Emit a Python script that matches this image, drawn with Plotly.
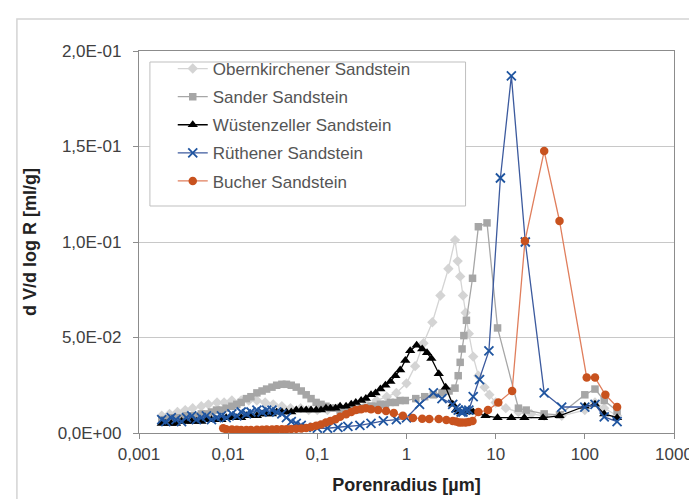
import plotly.graph_objects as go

# ---------------- data ----------------
ober_x = [0.0018, 0.0022, 0.0027, 0.0033, 0.004, 0.005, 0.006, 0.0075, 0.009, 0.011, 0.014, 0.017, 0.021,
          0.026, 0.032, 0.04, 0.05, 0.065, 0.08, 0.1, 0.13, 0.17, 0.22, 0.28, 0.36, 0.46, 0.6, 0.77, 1.0,
          1.25, 1.55, 1.95, 2.4, 2.95, 3.5, 3.75, 4.0, 4.3, 4.6, 5.0, 5.6, 6.4, 7.5, 8.5, 10, 13, 18, 25,
          35, 55, 100, 130, 165, 230]
ober_y = [0.009, 0.010, 0.011, 0.012, 0.013, 0.014, 0.015, 0.016, 0.016, 0.017, 0.017, 0.017, 0.017,
          0.016, 0.015, 0.014, 0.013, 0.013, 0.012, 0.012, 0.012, 0.013, 0.013, 0.014, 0.015, 0.017, 0.019,
          0.021, 0.026, 0.035, 0.047, 0.058, 0.072, 0.086, 0.101, 0.090, 0.082, 0.072, 0.063, 0.052, 0.040,
          0.030, 0.024, 0.020, 0.016, 0.013, 0.011, 0.010, 0.009, 0.009, 0.012, 0.016, 0.013, 0.009]

sander_x = [0.0018, 0.002, 0.0023, 0.0026, 0.003, 0.0034, 0.0039, 0.0044, 0.005, 0.0057, 0.0065, 0.0074,
            0.0084, 0.0095, 0.011, 0.0125, 0.014, 0.016, 0.018, 0.021, 0.024, 0.027, 0.031, 0.035, 0.04,
            0.045, 0.051, 0.058, 0.066, 0.075, 0.085, 0.097, 0.11, 0.125, 0.14, 0.16, 0.18, 0.21, 0.24,
            0.27, 0.31, 0.35, 0.4, 0.45, 0.51, 0.58, 0.66, 0.75, 0.85, 0.97, 1.27, 1.6, 2.0, 2.5, 3.0, 3.5,
            3.8, 4.0, 4.2, 4.4, 4.7, 5.5, 6.4, 8.0, 10.5, 18, 22, 35, 52, 100, 130, 165, 230]
sander_y = [0.007, 0.007, 0.008, 0.008, 0.008, 0.009, 0.009, 0.009, 0.010, 0.010, 0.011, 0.012,
            0.012, 0.013, 0.014, 0.015, 0.016, 0.018, 0.019, 0.021, 0.022, 0.023, 0.024, 0.025, 0.0255,
            0.0255, 0.025, 0.024, 0.022, 0.020, 0.018, 0.016, 0.015, 0.014, 0.013, 0.013, 0.012, 0.012,
            0.012, 0.012, 0.013, 0.013, 0.014, 0.014, 0.015, 0.015, 0.016, 0.016, 0.017, 0.017, 0.018,
            0.019, 0.020, 0.021, 0.022, 0.0235, 0.030, 0.037, 0.044, 0.051, 0.059, 0.081, 0.108, 0.110,
            0.055, 0.013, 0.012, 0.010, 0.0095, 0.020, 0.023, 0.017, 0.0115]

wuest_x = [0.0018, 0.002, 0.0023, 0.0026, 0.003, 0.0034, 0.0039, 0.0044, 0.005, 0.0057, 0.0065, 0.0074,
           0.0084, 0.0095, 0.011, 0.0125, 0.014, 0.016, 0.018, 0.021, 0.024, 0.027, 0.031, 0.035, 0.04,
           0.045, 0.051, 0.058, 0.066, 0.075, 0.085, 0.097, 0.11, 0.125, 0.14, 0.16, 0.18, 0.21, 0.24,
           0.27, 0.31, 0.35, 0.4, 0.45, 0.51, 0.58, 0.66, 0.75, 0.85, 0.97, 1.1, 1.3, 1.5, 1.7, 1.9, 2.3,
           2.75, 3.3, 3.6, 4.0, 4.5, 5.0, 5.6, 7.7, 10.5, 15, 21, 34, 52, 100, 130, 165, 230]
wuest_y = [0.005, 0.005, 0.005, 0.005, 0.006, 0.006, 0.006, 0.006, 0.006, 0.007, 0.007, 0.007,
           0.007, 0.008, 0.008, 0.008, 0.008, 0.009, 0.009, 0.009, 0.010, 0.010, 0.010, 0.011, 0.011,
           0.011, 0.011, 0.012, 0.012, 0.012, 0.012, 0.012, 0.012, 0.013, 0.013, 0.013, 0.014, 0.014,
           0.015, 0.016, 0.017, 0.018, 0.020, 0.021, 0.023, 0.025, 0.027, 0.030, 0.033, 0.038, 0.043,
           0.046, 0.044, 0.042, 0.039, 0.031, 0.024, 0.015, 0.012, 0.011, 0.011, 0.012, 0.011, 0.009,
           0.008, 0.008, 0.008, 0.008, 0.009, 0.014, 0.015, 0.010, 0.008]

rueth_x = [0.0018, 0.002, 0.0023, 0.0026, 0.003, 0.0034, 0.0039, 0.0044, 0.005, 0.0057, 0.0065, 0.0074,
           0.0084, 0.0095, 0.011, 0.0125, 0.014, 0.016, 0.018, 0.021, 0.024, 0.027, 0.031, 0.035, 0.04,
           0.045, 0.051, 0.058, 0.066, 0.075, 0.1, 0.13, 0.17, 0.22, 0.3, 0.4, 0.55, 0.77, 1.0, 1.4, 2.0,
           2.5, 3.3, 3.6, 3.8, 4.1, 4.3, 4.6, 5.0, 5.6, 6.6, 8.4, 11.3, 15, 21.5, 35, 55, 100, 130, 165, 230]
rueth_y = [0.007, 0.006, 0.008, 0.007, 0.006, 0.008, 0.009, 0.007, 0.008, 0.009, 0.007, 0.008,
           0.009, 0.008, 0.010, 0.009, 0.011, 0.010, 0.011, 0.012, 0.011, 0.012, 0.012, 0.011, 0.010,
           0.008, 0.006, 0.005, 0.004, 0.003, 0.0025, 0.0025, 0.003, 0.0035, 0.004, 0.005, 0.0063, 0.007,
           0.0079, 0.015, 0.021, 0.018, 0.015, 0.013, 0.012, 0.011, 0.011, 0.012, 0.012, 0.019, 0.028,
           0.043, 0.1335, 0.187, 0.100, 0.021, 0.0136, 0.0136, 0.015, 0.0084, 0.006]

bucher_x = [0.0088, 0.0095, 0.011, 0.0125, 0.014, 0.016, 0.018, 0.021, 0.024, 0.027, 0.031, 0.035, 0.04,
            0.045, 0.051, 0.058, 0.066, 0.075, 0.085, 0.097, 0.11, 0.125, 0.14, 0.16, 0.18, 0.21, 0.24,
            0.27, 0.31, 0.35, 0.4, 0.48, 0.59, 0.72, 0.91, 1.18, 1.5, 1.8, 2.3, 2.8, 3.3, 3.6, 3.9, 4.2,
            4.6, 5.0, 5.5, 6.4, 8.2, 10.7, 15.3, 21.3, 35, 52, 105, 130, 170, 230]
bucher_y = [0.0025, 0.002, 0.0018, 0.0017, 0.0016, 0.0016, 0.0016, 0.0017, 0.0017, 0.0018, 0.0018,
            0.0019, 0.002, 0.002, 0.0021, 0.0022, 0.0024, 0.0026, 0.0032, 0.0038, 0.0045, 0.0055, 0.0063,
            0.0072, 0.0085, 0.0098, 0.011, 0.012, 0.0125, 0.013, 0.0125, 0.012, 0.0115, 0.0105, 0.009,
            0.0079, 0.0075, 0.0073, 0.0073, 0.0068, 0.0063, 0.006, 0.0055, 0.0055, 0.0055, 0.0058, 0.0063,
            0.011, 0.012, 0.016, 0.022, 0.1005, 0.1476, 0.111, 0.029, 0.029, 0.020, 0.0136]

series_names = ["Obernkirchener Sandstein", "Sander Sandstein", "Wüstenzeller Sandstein",
                "Rüthener Sandstein", "Bucher Sandstein"]
x_tick_vals = [0.001, 0.01, 0.1, 1, 10, 100, 1000]
x_tick_text = ["0,001", "0,01", "0,1", "1", "10", "100", "1000"]
y_tick_vals = [0, 0.05, 0.1, 0.15, 0.2]
y_tick_text = ["0,0E+00", "5,0E-02", "1,0E-01", "1,5E-01", "2,0E-01"]

# ---------------- layout geometry ----------------
W, H = 697, 499
PL, PR, PT, PB = 131, 670, 43, 425   # plot area pixels


def px(xp):
    return (xp - PL) / (PR - PL)


def py(yp):
    return (PB - yp) / (PB - PT)


FONT = "Liberation Sans, Arial, sans-serif"

styles = [
    dict(line=dict(color="#d4d4d4", width=1.3),
         marker=dict(symbol="diamond", size=8, color="#d4d4d4")),
    dict(line=dict(color="#a6a6a6", width=1.3),
         marker=dict(symbol="square", size=7.5, color="#a6a6a6")),
    dict(line=dict(color="#000000", width=1.3),
         marker=dict(symbol="triangle-up", size=9, color="#000000")),
    dict(line=dict(color="#3c5a9e", width=1.3),
         marker=dict(symbol="x-thin", size=9, color="#1f55a0",
                     line=dict(color="#1f55a0", width=1.8))),
    dict(line=dict(color="#e07e5c", width=1.3),
         marker=dict(symbol="circle", size=8.5, color="#c8521e")),
]
xs = [ober_x, sander_x, wuest_x, rueth_x, bucher_x]
ys = [ober_y, sander_y, wuest_y, rueth_y, bucher_y]

fig = go.Figure()
for i, (name, x, y, st) in enumerate(zip(series_names, xs, ys, styles)):
    fig.add_trace(go.Scatter(x=x, y=y, name=name, mode="lines+markers",
                             legendgroup=f"g{i}", **st))

fig.update_layout(
    width=W, height=H,
    margin=dict(l=PL, r=W - PR, t=PT, b=H - PB, pad=0),
    paper_bgcolor="white", plot_bgcolor="white",
    font=dict(family=FONT, size=17, color="#404040"),
    showlegend=True,
    legend=dict(x=px(165), y=py(43), xanchor="left", yanchor="top",
                bgcolor="rgba(255,255,255,0)", borderwidth=0,
                font=dict(family=FONT, size=17, color="#555555"),
                tracegroupgap=3, traceorder="grouped"),
    xaxis=dict(type="log", range=[-3, 3], tickvals=x_tick_vals, ticktext=x_tick_text,
               showgrid=False, zeroline=False, showline=True, mirror=True,
               linecolor="#8c8c8c", linewidth=1.3, ticks="outside", ticklen=5,
               tickcolor="#8c8c8c", tickfont=dict(size=17, color="#404040"),
               title=dict(text="<b>Porenradius [µm]</b>", font=dict(size=18, color="#222222"),
                          standoff=15)),
    yaxis=dict(range=[0, 0.2], tickvals=y_tick_vals, ticktext=y_tick_text,
               showgrid=True, gridcolor="#c8c8c8", gridwidth=1, zeroline=False,
               showline=True, mirror=True, linecolor="#8c8c8c", linewidth=1.3,
               ticks="outside", ticklen=5, tickcolor="#8c8c8c", ticklabelstandoff=8,
               tickfont=dict(size=17, color="#404040"),
               title=dict(text="<b>d V/d log R [ml/g]</b>", font=dict(size=18, color="#222222"),
                          standoff=16)),
    shapes=[
        # outer chart frame
        dict(type="rect", xref="paper", yref="paper", x0=px(8), x1=px(691), y0=py(495), y1=py(11),
             line=dict(color="#d4d4d4", width=1.5), layer="below"),
        # legend frame
        dict(type="rect", xref="paper", yref="paper", x0=px(142), x1=px(460), y0=py(198), y1=py(54),
             line=dict(color="#bfbfbf", width=1), fillcolor="white", layer="above"),
    ],
)

fig.write_html("out.html")
